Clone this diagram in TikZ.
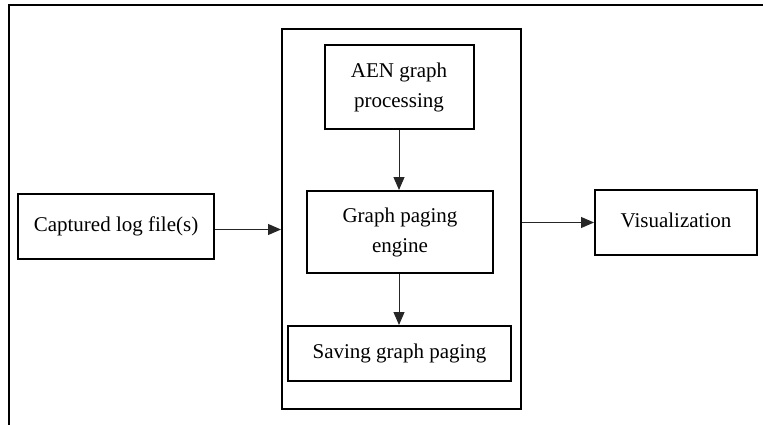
\documentclass[tikz,border=0pt]{standalone}
\usepackage{fontspec}
\setmainfont{Liberation Serif}
\usetikzlibrary{arrows.meta}
\begin{document}
\begin{tikzpicture}[x=1pt,y=-1pt,
  box/.style={draw=black,line width=2pt,rectangle,inner sep=0pt,align=center,
    font=\fontsize{21}{30}\selectfont,text=black},
  arr/.style={draw=black!85,line width=1pt,-{Triangle[length=13pt,width=11pt]}}]
\useasboundingbox (0,0) rectangle (763,425);
\draw[line width=2.2pt,line cap=rect] (763,5) -- (9,5) -- (9,426);
\node[box,minimum width=239pt,minimum height=380pt] (cont) at (401.5,219) {};
\node[box,minimum width=149pt,minimum height=84pt] (aen) at (399,87) {AEN graph\\processing};
\node[box,minimum width=186pt,minimum height=82pt] (gpe) at (400,232) {Graph paging\\engine};
\node[box,minimum width=223pt,minimum height=55pt] (sav) at (399.5,353.5) {Saving graph paging};
\node[box,minimum width=196pt,minimum height=65pt] (cap) at (116,226.5) {\raisebox{4pt}{Captured log file(s)}};
\node[box,minimum width=162pt,minimum height=65pt] (vis) at (676,222.5) {\raisebox{4pt}{Visualization}};
\draw[arr] (aen.south) -- (aen.south |- gpe.north);
\draw[arr] (aen.south |- gpe.south) -- (aen.south |- sav.north);
\draw[arr] ([yshift=-3pt]cap.east) -- ([yshift=-3pt]cap.east -| cont.west);
\draw[arr] (cont.east |- vis.west) -- (vis.west);
\end{tikzpicture}
\end{document}
